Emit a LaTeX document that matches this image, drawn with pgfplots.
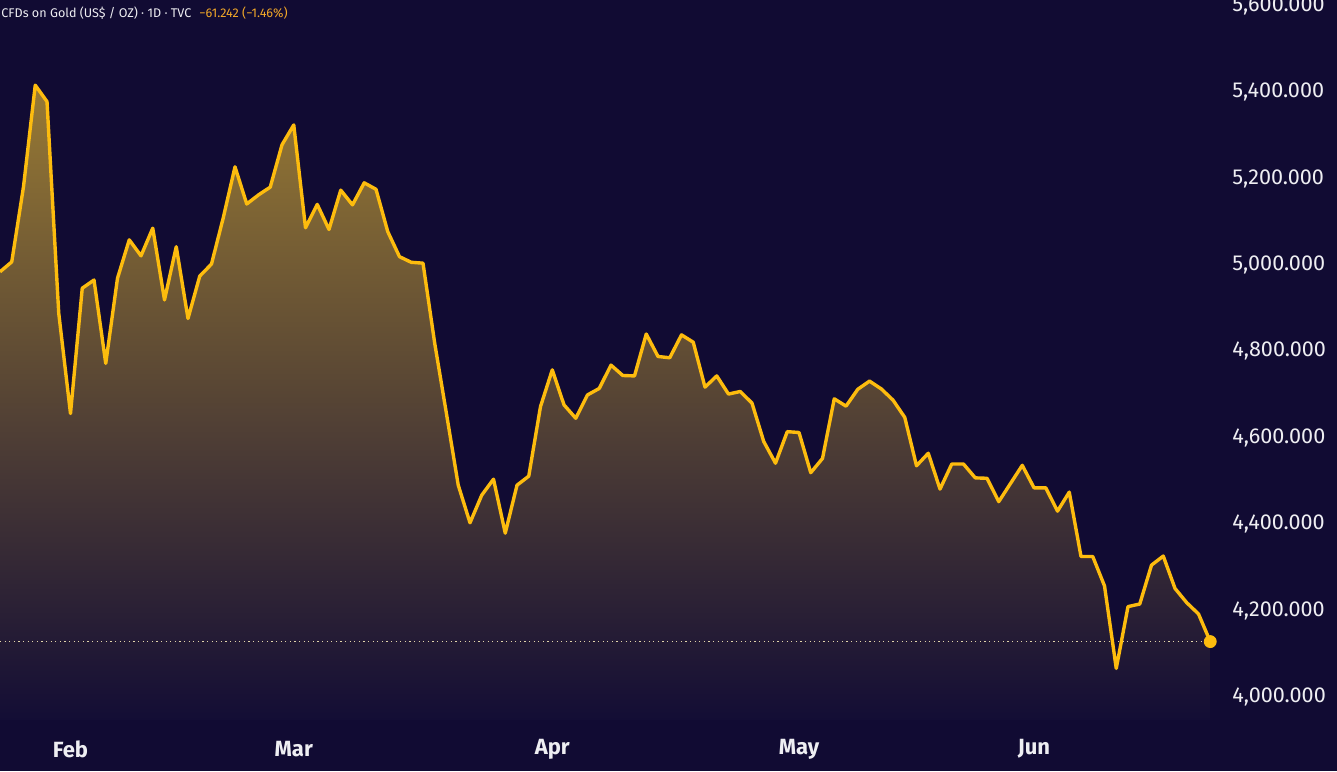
\documentclass[border=0pt]{standalone}
\usepackage{pgfplots}
\pgfplotsset{compat=1.18}
\usepackage{pgfplotstable}
\usepackage{fontspec}
\setmainfont{Fira Sans}

\definecolor{bg}{RGB}{17,11,51}
\definecolor{linec}{RGB}{253,188,14}
\definecolor{labelc}{RGB}{238,238,242}
\definecolor{orangec}{RGB}{242,168,40}
\definecolor{dotc}{RGB}{225,212,170}
\definecolor{filltop}{RGB}{152,122,52}
\definecolor{fillmid}{RGB}{86,75,82}
\definecolor{fillbot}{RGB}{19,13,53}

\pgfplotstableread{
i v
0 4984
1 5007
2 5181
3 5416
4 5378
5 4888
6 4656
7 4946
8 4965
9 4772
10 4969
11 5058
12 5021
13 5085
14 4919
15 5042
16 4876
17 4974
18 5002
19 5109
20 5227
21 5141
22 5162
23 5180
24 5278
25 5324
26 5086
27 5140
28 5082
29 5173
30 5139
31 5190
32 5175
33 5077
34 5019
35 5006
36 5004
37 4818
38 4655
39 4490
40 4403
41 4467
42 4504
43 4379
44 4490
45 4511
46 4672
47 4757
48 4676
49 4645
50 4699
51 4714
52 4768
53 4744
54 4743
55 4840
56 4788
57 4785
58 4838
59 4821
60 4717
61 4743
62 4701
63 4707
64 4680
65 4591
66 4541
67 4614
68 4612
69 4519
70 4552
71 4690
72 4673
73 4712
74 4731
75 4713
76 4687
77 4647
78 4535
79 4564
80 4481
81 4539
82 4539
83 4507
84 4506
85 4452
86 4494
87 4536
88 4484
89 4484
90 4430
91 4474
92 4325
93 4325
94 4257
95 4066
96 4209
97 4215
98 4305
99 4326
100 4251
101 4218
102 4192
103 4128
}\gold

\begin{document}
\begin{tikzpicture}
\fill[bg] (0,0) rectangle (668.5pt,385.5pt);
\path[use as bounding box] (0,0) rectangle (668.5pt,385.5pt);
\begin{axis}[
  at={(0pt,25.5pt)}, anchor=south west,
  scale only axis, width=610pt, height=360pt,
  xmin=0, xmax=103.83, ymin=3946.5, ymax=5613.2,
  axis line style={draw=none},
  major tick length=0pt,
  ytick={4000,4200,...,5600},
  yticklabel pos=right,
  xtick={6,25,47,68,88},
  xticklabels={Feb,Mar,Apr,May,Jun},
  /pgf/number format/assume math mode=true,
  yticklabel style={font=\fontsize{10.8}{12}\selectfont, text=labelc,
    anchor=west, inner sep=0pt, xshift=6pt,
    /pgf/number format/.cd, fixed, fixed zerofill, precision=3, 1000 sep={,}},
  xticklabel style={font=\fontsize{11}{12}\selectfont\bfseries, text=labelc,
    anchor=center, inner sep=0pt, yshift=-14.5pt},
]
\addplot[draw=none, top color=filltop, middle color=fillmid, bottom color=fillbot, forget plot]
  table[x=i,y=v] {\gold} -- (103,3946.5) -- (0,3946.5) -- cycle;
\addplot[dotc, line width=0.5pt, dash pattern=on 0.6pt off 1.7pt] coordinates {(0,4128) (103,4128)};
\addplot[linec, line width=1.7pt, line join=round, mark=none] table[x=i,y=v] {\gold};
\addplot[only marks, mark=*, mark size=3pt, mark options={fill=linec, draw=linec}] coordinates {(103,4128)};
\end{axis}
\node[anchor=west, inner sep=0pt, font=\fontsize{6.3}{7}\selectfont, text=labelc] at (0.5pt,379pt)
  {CFDs on Gold (US\$ / OZ) · 1D · TVC\hspace{4pt}\textcolor{orangec}{−61.242 (−1.46\%)}};
\end{tikzpicture}
\end{document}
